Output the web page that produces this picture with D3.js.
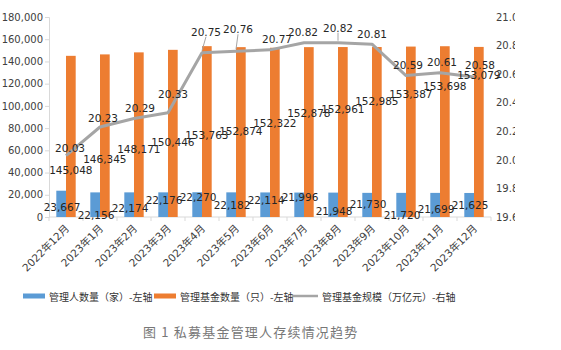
<!DOCTYPE html>
<html><head><meta charset="utf-8">
<script src="https://cdn.jsdelivr.net/npm/d3@7"></script>
<style>
html,body{margin:0;padding:0;background:#fff;}
svg{display:block;}
</style></head>
<body>
<svg id="chart" width="561" height="350"></svg>
<script>
// ---- data ----
const categories = ["2022年12月","2023年1月","2023年2月","2023年3月","2023年4月","2023年5月","2023年6月","2023年7月","2023年8月","2023年9月","2023年10月","2023年11月","2023年12月"];
const managers = [23667,22156,22174,22176,22270,22182,22114,21996,21948,21730,21720,21699,21625];
const funds = [145048,146345,148171,150446,153763,152874,152322,152878,152961,152985,153387,153698,153079];
const scale = [20.03,20.23,20.29,20.33,20.75,20.76,20.77,20.82,20.82,20.81,20.59,20.61,20.58];
const leftTicks = [0,20000,40000,60000,80000,100000,120000,140000,160000,180000];
const rightTicks = [19.6,19.8,20.0,20.2,20.4,20.6,20.8,21.0];
const seriesNames = ["管理人数量（家）-左轴","管理基金数量（只）-左轴","管理基金规模（万亿元）-右轴"];
const title = "图 1 私募基金管理人存续情况趋势";

// ---- label placement (layout, px) ----
const blueLabelDy = [16,23,16,8,5,13,8,4,18,11,22,16,12];
const orangeLabelDy = [114,105,97,92,89,84,75,66,62,54,47,40,28];
const lineLabelOff = [[4,-8],[3,-9],[6,-10],[5,-19],[4,-21],[2,-22],[7,-11],[-1,-11],[0,-15],[0,-10],[2,-11],[2,-11],[6,-12]];
const leaderIdx = [4,5,8];

const colors = {blue:"#5b9bd5", orange:"#ed7d31", gray:"#a5a5a5"};
const svg = d3.select("#chart");
const m = {l:49, r:491, t:17, b:217};
const numFont = "'DejaVu Sans', 'Noto Sans CJK SC', sans-serif";
const cjkFont = "'Noto Sans CJK SC', 'DejaVu Sans', sans-serif";

const x0 = d3.scaleBand().domain(categories).range([m.l, m.r]).paddingInner(0.43).paddingOuter(0.215);
const x1 = d3.scaleBand().domain(["a","b"]).range([0, x0.bandwidth()]);
const xc = c => x0(c) + x0.bandwidth()/2;
const yL = d3.scaleLinear().domain([0,180000]).range([m.b, m.t]);
const yR = d3.scaleLinear().domain([19.6,21.0]).range([m.b, m.t]);

// left axis
const fmt = d3.format(",");
const gL = svg.append("g").attr("transform",`translate(${m.l},0)`)
  .call(d3.axisLeft(yL).tickValues(leftTicks).tickFormat(fmt).tickSize(4).tickPadding(2));
gL.select(".domain").attr("stroke","#d9d9d9");
gL.selectAll(".tick line").attr("stroke","#d9d9d9");
gL.selectAll("text").attr("font-family",numFont).attr("font-size","10px").attr("fill","#404040");

// right axis with clipped labels (picture is cut at the right)
svg.append("defs").append("clipPath").attr("id","rclip").append("rect")
  .attr("x",-1).attr("y",0).attr("width",25).attr("height",240);
const gR = svg.append("g").attr("transform",`translate(${m.r},0)`).attr("clip-path","url(#rclip)")
  .call(d3.axisRight(yR).tickValues(rightTicks).tickFormat(d3.format(".1f")).tickSize(0).tickPadding(5));
gR.select(".domain").remove();
gR.selectAll("text").attr("font-family",numFont).attr("font-size","10px").attr("fill","#404040");

// x axis
const gX = svg.append("g").attr("transform",`translate(0,${m.b})`);
gX.append("line").attr("x1",m.l).attr("x2",m.r).attr("stroke","#d9d9d9");
const step = x0.step();
gX.selectAll(".tk").data(d3.range(categories.length+1)).join("line")
  .attr("x1",i=>m.l+i*step).attr("x2",i=>m.l+i*step).attr("y1",0).attr("y2",4).attr("stroke","#d9d9d9");
gX.selectAll(".xl").data(categories).join("text")
  .attr("transform",c=>`translate(${xc(c)+4},12) rotate(-45)`)
  .attr("text-anchor","end")
  .attr("font-family",numFont).attr("font-size","10.5px").attr("fill","#404040")
  .text(c=>c);

// bars
svg.selectAll(".bb").data(categories).join("rect")
  .attr("x",c=>x0(c)+x1("a")).attr("width",x1.bandwidth())
  .attr("y",(c,i)=>yL(managers[i])).attr("height",(c,i)=>yL(0)-yL(managers[i]))
  .attr("fill",colors.blue);
svg.selectAll(".ob").data(categories).join("rect")
  .attr("x",c=>x0(c)+x1("b")).attr("width",x1.bandwidth())
  .attr("y",(c,i)=>yL(funds[i])).attr("height",(c,i)=>yL(0)-yL(funds[i]))
  .attr("fill",colors.orange);

// line
const line = d3.line().x((d,i)=>xc(categories[i])).y(d=>yR(d));
svg.append("path").datum(scale).attr("d",line)
  .attr("fill","none").attr("stroke",colors.gray).attr("stroke-width",3).attr("stroke-linejoin","round");

// leader lines
svg.selectAll(".ld").data(leaderIdx).join("line")
  .attr("x1",i=>xc(categories[i])+lineLabelOff[i][0]).attr("y1",i=>yR(scale[i])+lineLabelOff[i][1]+5)
  .attr("x2",i=>xc(categories[i])).attr("y2",i=>yR(scale[i])-2)
  .attr("stroke",colors.gray).attr("stroke-width",1);

// labels
const lab = sel => sel.attr("font-family",numFont).attr("font-size","10.5px").attr("fill","#262626")
  .attr("text-anchor","middle").attr("dominant-baseline","central");
svg.selectAll(".bl").data(categories).join("text").call(lab)
  .attr("x",c=>xc(c)-4).attr("y",(c,i)=>yL(managers[i])+blueLabelDy[i])
  .text((c,i)=>fmt(managers[i]));
svg.selectAll(".ol").data(categories).join("text").call(lab)
  .attr("x",c=>x0(c)+x1("b")+x1.bandwidth()/2).attr("y",(c,i)=>yL(funds[i])+orangeLabelDy[i])
  .text((c,i)=>fmt(funds[i]));
svg.selectAll(".ll").data(categories).join("text").call(lab)
  .attr("x",(c,i)=>xc(c)+lineLabelOff[i][0]).attr("y",(c,i)=>yR(scale[i])+lineLabelOff[i][1])
  .text((c,i)=>scale[i].toFixed(2));

// legend
const lg = svg.append("g").attr("transform","translate(0,296)");
const legendItems = [
  {name:seriesNames[0], type:"rect", color:colors.blue, x:23, tx:49},
  {name:seriesNames[1], type:"rect", color:colors.orange, x:154, tx:180},
  {name:seriesNames[2], type:"line", color:colors.gray, x:292, tx:322}
];
legendItems.forEach(it=>{
  if(it.type==="rect") lg.append("rect").attr("x",it.x).attr("y",-2.5).attr("width",22).attr("height",5).attr("fill",it.color);
  else lg.append("line").attr("x1",it.x).attr("x2",it.x+26).attr("y1",0).attr("y2",0).attr("stroke",it.color).attr("stroke-width",2.5);
  lg.append("text").attr("x",it.tx).attr("y",0).attr("dominant-baseline","central")
    .attr("font-family",cjkFont).attr("font-size","10px").attr("fill","#333").text(it.name);
});

// title
svg.append("text").attr("x",143).attr("y",331).attr("dominant-baseline","central")
  .attr("font-family",cjkFont).attr("font-size","13px").attr("letter-spacing","1.2px")
  .attr("fill","#777").text(title);
</script>
</body></html>
